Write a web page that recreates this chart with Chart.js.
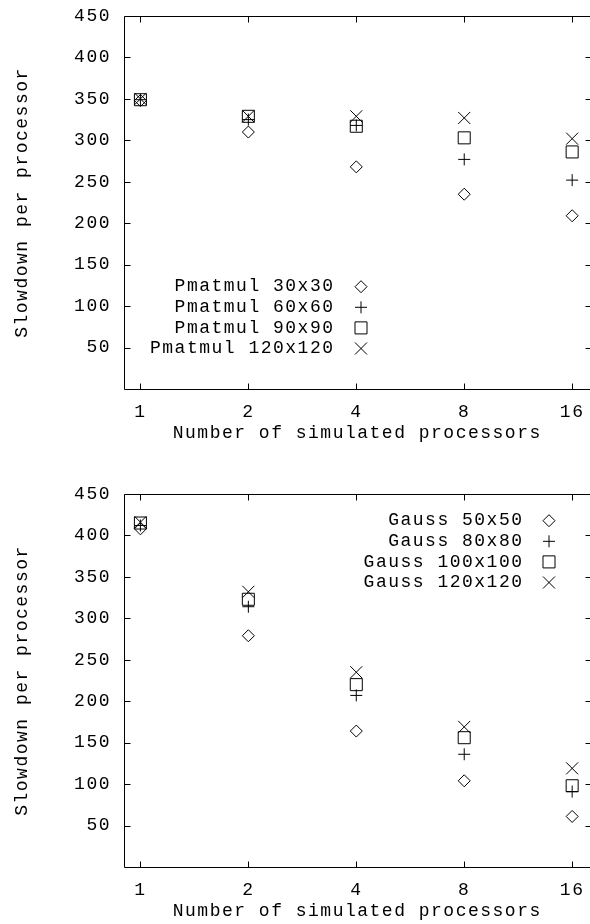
<!DOCTYPE html>
<html><head><meta charset="utf-8">
<script src="https://cdn.jsdelivr.net/npm/chart.js@4/dist/chart.umd.min.js"></script>
<style>
html,body{margin:0;padding:0;background:#fff;overflow:hidden;width:590px;height:924px;}
.panel{position:absolute;left:0;width:600px;height:446px;}
#p1{top:0}
#p2{top:478px}
</style></head><body>
<div class="panel" id="p1"><canvas id="c1" width="600" height="446"></canvas></div>
<div class="panel" id="p2"><canvas id="c2" width="600" height="446"></canvas></div>
<script>
// ---- data ----
const procs = [1, 2, 4, 8, 16];
const xTickValues = [1, 2, 4, 8, 16];
const yTickValues = [50, 100, 150, 200, 250, 300, 350, 400, 450];
const xTitle = 'Number of simulated processors';
const yTitle = 'Slowdown per processor';

const pmatmulLabels = ['Pmatmul 30x30', 'Pmatmul 60x60', 'Pmatmul 90x90', 'Pmatmul 120x120'];
const pmatmul30  = [348, 310, 268, 235, 209];
const pmatmul60  = [349, 325, 318, 277, 252];
const pmatmul90  = [349, 329, 317, 303, 286];
const pmatmul120 = [350, 329, 329, 327, 302];

const gaussLabels = ['Gauss 50x50', 'Gauss 80x80', 'Gauss 100x100', 'Gauss 120x120'];
const gauss50  = [408, 279, 164, 104, 61];
const gauss80  = [412, 314, 207, 136, 91];
const gauss100 = [415, 323, 220, 156, 98];
const gauss120 = [416, 332, 235, 169, 119];

const markerStyles = ['rectRot', 'cross', 'rect', 'crossRot'];
const markerRadii = [6, 6, 8.5, 8.5];

// ---- helpers ----
const FONT = {family: "'Liberation Mono', 'Courier New', monospace", size: 18};
const LSP = '1.5px';

function pointDraw(ctx, style, r, x, y) {
  ctx.beginPath();
  if (style === 'rectRot') {
    ctx.moveTo(x - r, y); ctx.lineTo(x, y - r); ctx.lineTo(x + r, y); ctx.lineTo(x, y + r); ctx.closePath();
  } else if (style === 'cross') {
    ctx.moveTo(x - r, y); ctx.lineTo(x + r, y); ctx.moveTo(x, y - r); ctx.lineTo(x, y + r);
  } else if (style === 'rect') {
    const s = r * Math.SQRT1_2; ctx.rect(x - s, y - s, 2 * s, 2 * s);
  } else {
    const s = r * Math.SQRT1_2;
    ctx.moveTo(x - s, y - s); ctx.lineTo(x + s, y + s); ctx.moveTo(x + s, y - s); ctx.lineTo(x - s, y + s);
  }
  ctx.stroke();
}

const spacingPlugin = {
  id: 'spacing',
  beforeDraw(chart) { try { chart.ctx.letterSpacing = LSP; } catch (e) {} }
};

const framePlugin = {
  id: 'frame',
  afterDraw(chart) {
    const {ctx, chartArea: a, scales} = chart;
    ctx.save();
    ctx.strokeStyle = '#000';
    ctx.lineWidth = 1;
    const L = Math.round(a.left) + 0.5, R = Math.round(a.right) + 0.5;
    const T = Math.round(a.top) + 0.5, B = Math.round(a.bottom) + 0.5;
    ctx.beginPath();
    ctx.rect(L, T, R - L, B - T);
    const tl = 6;
    scales.y.ticks.forEach(t => {
      const y = Math.round(scales.y.getPixelForValue(t.value)) + 0.5;
      ctx.moveTo(L, y); ctx.lineTo(L + tl, y);
      ctx.moveTo(R, y); ctx.lineTo(R - tl, y);
    });
    scales.x.ticks.forEach(t => {
      const x = Math.round(scales.x.getPixelForValue(t.value)) + 0.5;
      ctx.moveTo(x, B); ctx.lineTo(x, B - tl);
      ctx.moveTo(x, T); ctx.lineTo(x, T + tl);
    });
    ctx.stroke();

    // key
    const k = chart.options.plugins.key;
    ctx.font = FONT.size + 'px ' + FONT.family;
    try { ctx.letterSpacing = LSP; } catch (e) {}
    ctx.fillStyle = '#000';
    ctx.textAlign = 'right';
    ctx.textBaseline = 'middle';
    chart.data.datasets.forEach((ds, i) => {
      const y = k.y0 + i * k.dy;
      ctx.fillText(ds.label, k.textRight + 1.5, y);
      pointDraw(ctx, markerStyles[i], markerRadii[i], k.markX, y);
    });
    ctx.restore();
  }
};

function makeChart(id, labels, series, key) {
  const datasets = series.map((vals, i) => ({
    label: labels[i],
    data: procs.map((p, j) => ({x: p, y: vals[j]})),
    pointStyle: markerStyles[i],
    pointRadius: markerRadii[i],
    pointBorderWidth: 1,
    pointBorderColor: '#000',
    pointBackgroundColor: 'rgba(0,0,0,0)',
    showLine: false
  }));
  return new Chart(document.getElementById(id), {
    type: 'scatter',
    data: {datasets},
    plugins: [spacingPlugin, framePlugin],
    options: {
      responsive: false,
      animation: false,
      layout: {padding: {top: 16, right: 9, bottom: 0, left: 0}},
      plugins: {legend: {display: false}, tooltip: {enabled: false}, key},
      scales: {
        x: {
          type: 'logarithmic', min: 0.9, max: 18,
          afterBuildTicks: s => { s.ticks = xTickValues.map(v => ({value: v})); },
          afterFit: s => { s.height = 57; s.paddingLeft = 0; s.paddingRight = 0; },
          grid: {display: false, drawTicks: false},
          border: {display: false},
          ticks: {color: '#000', font: FONT, padding: 12, autoSkip: false, maxRotation: 0, callback: v => String(v)},
          title: {display: true, text: xTitle, color: '#000', font: FONT, padding: {top: 0, bottom: 2}}
        },
        y: {
          type: 'linear', min: 0, max: 450,
          afterBuildTicks: s => { s.ticks = yTickValues.map(v => ({value: v})); },
          afterFit: s => { s.width = 124; s.paddingTop = 0; s.paddingBottom = 0; },
          grid: {display: false, drawTicks: false},
          border: {display: false},
          ticks: {color: '#000', font: FONT, padding: 13, callback: v => String(v)},
          title: {display: true, text: yTitle, color: '#000', font: FONT, padding: {top: 11, bottom: 0}}
        }
      }
    }
  });
}

makeChart('c1', pmatmulLabels, [pmatmul30, pmatmul60, pmatmul90, pmatmul120],
  {textRight: 333, markX: 361, y0: 286.7, dy: 20.6});
makeChart('c2', gaussLabels, [gauss50, gauss80, gauss100, gauss120],
  {textRight: 522, markX: 549, y0: 42.7, dy: 20.6});
</script>
</body></html>
